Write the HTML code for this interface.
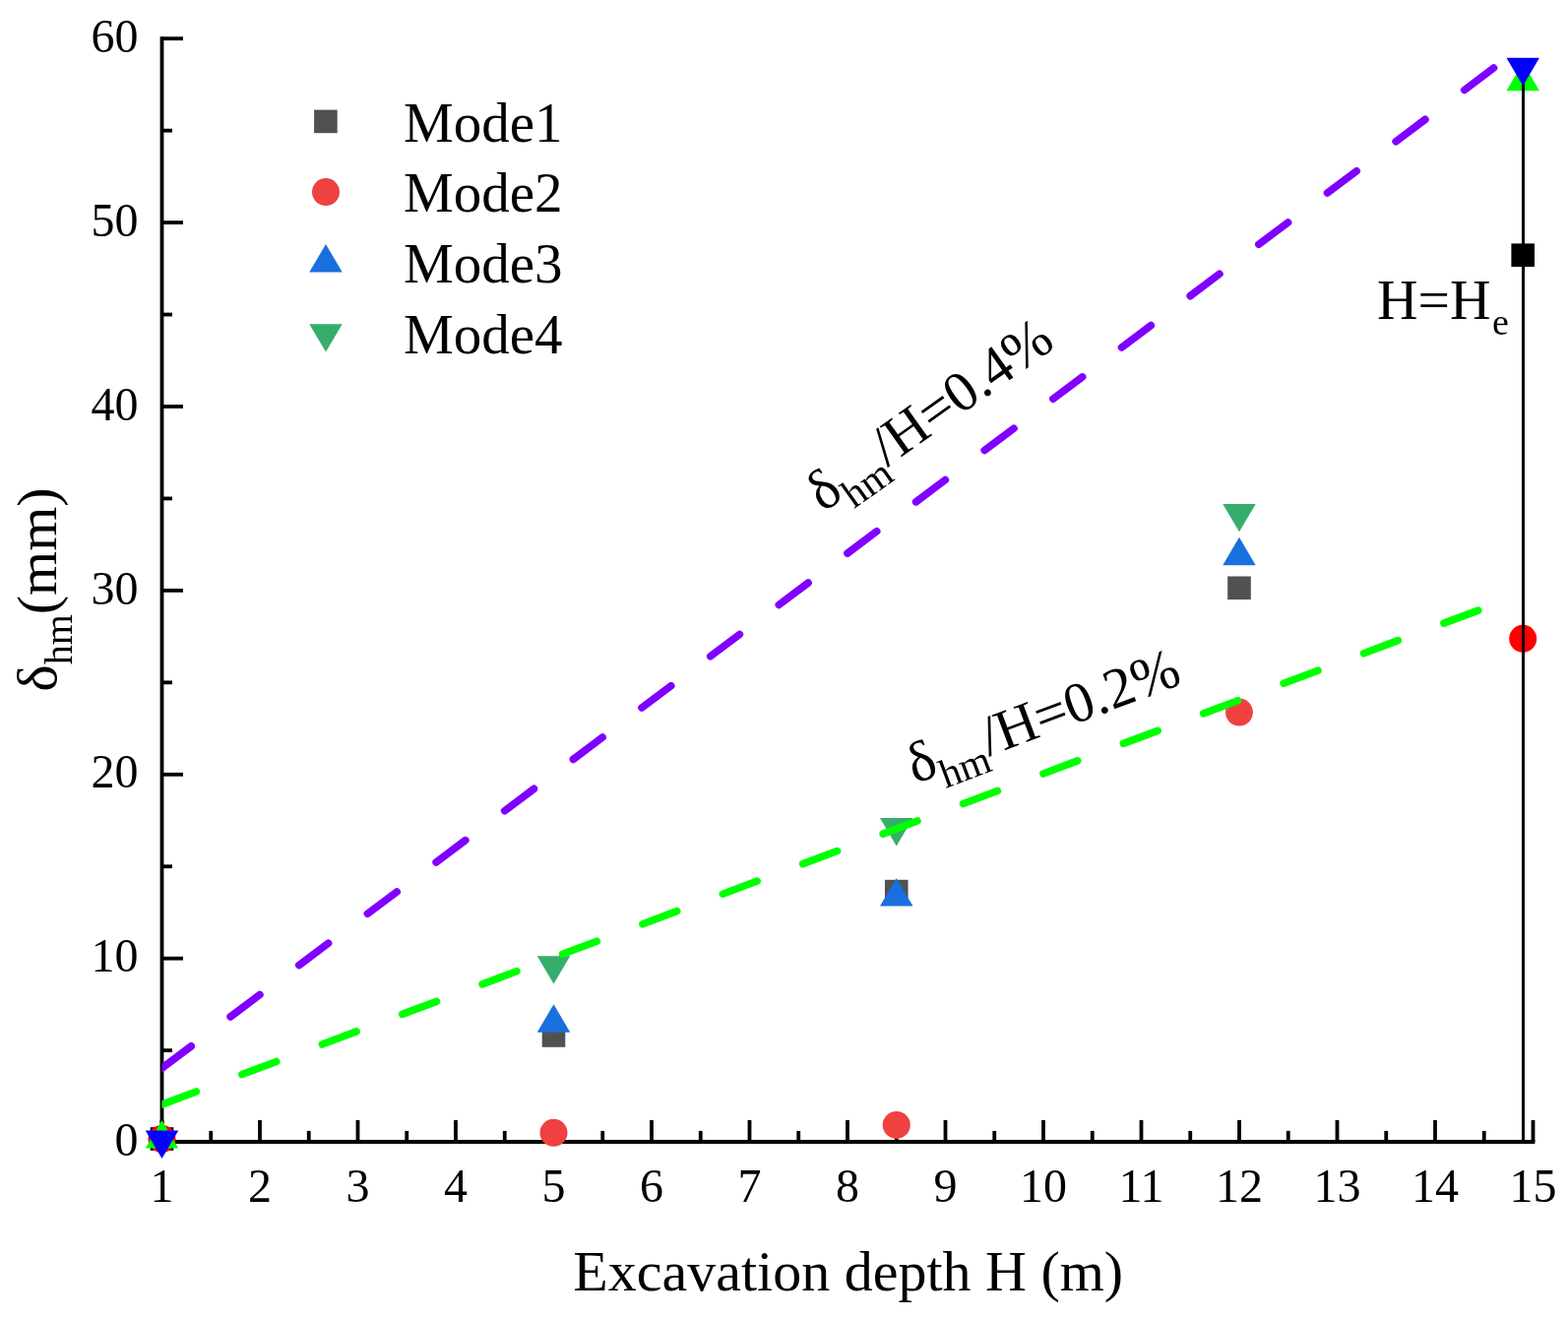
<!DOCTYPE html>
<html><head><meta charset="utf-8"><title>chart</title>
<style>
html,body{margin:0;padding:0;background:#fff;}
svg{display:block;}
text{font-family:"Liberation Serif", "Times New Roman", serif;fill:#000;}
</style></head>
<body>
<svg width="1593" height="1340" viewBox="0 0 1593 1340">
<defs><clipPath id="plot"><rect x="164.5" y="0" width="1430" height="1160"/></clipPath></defs>
<rect width="1593" height="1340" fill="#fff"/>
<line x1="164.50" y1="37.3" x2="164.50" y2="1161.6" stroke="#000" stroke-width="3.8"/>
<line x1="162.9" y1="1160.0" x2="1559.4" y2="1160.0" stroke="#000" stroke-width="3.8"/>
<line x1="164.50" y1="1067.15" x2="175.00" y2="1067.15" stroke="#000" stroke-width="3.8"/>
<line x1="164.50" y1="973.70" x2="186.00" y2="973.70" stroke="#000" stroke-width="3.8"/>
<line x1="164.50" y1="880.25" x2="175.00" y2="880.25" stroke="#000" stroke-width="3.8"/>
<line x1="164.50" y1="786.80" x2="186.00" y2="786.80" stroke="#000" stroke-width="3.8"/>
<line x1="164.50" y1="693.35" x2="175.00" y2="693.35" stroke="#000" stroke-width="3.8"/>
<line x1="164.50" y1="599.90" x2="186.00" y2="599.90" stroke="#000" stroke-width="3.8"/>
<line x1="164.50" y1="506.45" x2="175.00" y2="506.45" stroke="#000" stroke-width="3.8"/>
<line x1="164.50" y1="413.00" x2="186.00" y2="413.00" stroke="#000" stroke-width="3.8"/>
<line x1="164.50" y1="319.55" x2="175.00" y2="319.55" stroke="#000" stroke-width="3.8"/>
<line x1="164.50" y1="226.10" x2="186.00" y2="226.10" stroke="#000" stroke-width="3.8"/>
<line x1="164.50" y1="132.65" x2="175.00" y2="132.65" stroke="#000" stroke-width="3.8"/>
<line x1="164.50" y1="39.20" x2="186.00" y2="39.20" stroke="#000" stroke-width="3.8"/>
<line x1="164.50" y1="1159.9" x2="164.50" y2="1137.90" stroke="#000" stroke-width="3.8"/>
<line x1="214.25" y1="1159.9" x2="214.25" y2="1148.90" stroke="#000" stroke-width="3.8"/>
<line x1="264.00" y1="1159.9" x2="264.00" y2="1137.90" stroke="#000" stroke-width="3.8"/>
<line x1="313.75" y1="1159.9" x2="313.75" y2="1148.90" stroke="#000" stroke-width="3.8"/>
<line x1="363.50" y1="1159.9" x2="363.50" y2="1137.90" stroke="#000" stroke-width="3.8"/>
<line x1="413.25" y1="1159.9" x2="413.25" y2="1148.90" stroke="#000" stroke-width="3.8"/>
<line x1="463.00" y1="1159.9" x2="463.00" y2="1137.90" stroke="#000" stroke-width="3.8"/>
<line x1="512.75" y1="1159.9" x2="512.75" y2="1148.90" stroke="#000" stroke-width="3.8"/>
<line x1="562.50" y1="1159.9" x2="562.50" y2="1137.90" stroke="#000" stroke-width="3.8"/>
<line x1="612.25" y1="1159.9" x2="612.25" y2="1148.90" stroke="#000" stroke-width="3.8"/>
<line x1="662.00" y1="1159.9" x2="662.00" y2="1137.90" stroke="#000" stroke-width="3.8"/>
<line x1="711.75" y1="1159.9" x2="711.75" y2="1148.90" stroke="#000" stroke-width="3.8"/>
<line x1="761.50" y1="1159.9" x2="761.50" y2="1137.90" stroke="#000" stroke-width="3.8"/>
<line x1="811.25" y1="1159.9" x2="811.25" y2="1148.90" stroke="#000" stroke-width="3.8"/>
<line x1="861.00" y1="1159.9" x2="861.00" y2="1137.90" stroke="#000" stroke-width="3.8"/>
<line x1="910.75" y1="1159.9" x2="910.75" y2="1148.90" stroke="#000" stroke-width="3.8"/>
<line x1="960.50" y1="1159.9" x2="960.50" y2="1137.90" stroke="#000" stroke-width="3.8"/>
<line x1="1010.25" y1="1159.9" x2="1010.25" y2="1148.90" stroke="#000" stroke-width="3.8"/>
<line x1="1060.00" y1="1159.9" x2="1060.00" y2="1137.90" stroke="#000" stroke-width="3.8"/>
<line x1="1109.75" y1="1159.9" x2="1109.75" y2="1148.90" stroke="#000" stroke-width="3.8"/>
<line x1="1159.50" y1="1159.9" x2="1159.50" y2="1137.90" stroke="#000" stroke-width="3.8"/>
<line x1="1209.25" y1="1159.9" x2="1209.25" y2="1148.90" stroke="#000" stroke-width="3.8"/>
<line x1="1259.00" y1="1159.9" x2="1259.00" y2="1137.90" stroke="#000" stroke-width="3.8"/>
<line x1="1308.75" y1="1159.9" x2="1308.75" y2="1148.90" stroke="#000" stroke-width="3.8"/>
<line x1="1358.50" y1="1159.9" x2="1358.50" y2="1137.90" stroke="#000" stroke-width="3.8"/>
<line x1="1408.25" y1="1159.9" x2="1408.25" y2="1148.90" stroke="#000" stroke-width="3.8"/>
<line x1="1458.00" y1="1159.9" x2="1458.00" y2="1137.90" stroke="#000" stroke-width="3.8"/>
<line x1="1507.75" y1="1159.9" x2="1507.75" y2="1148.90" stroke="#000" stroke-width="3.8"/>
<line x1="1557.50" y1="1159.9" x2="1557.50" y2="1137.90" stroke="#000" stroke-width="3.8"/>
<text x="140.5" y="1174.20" text-anchor="end" font-size="48">0</text>
<text x="140.5" y="987.30" text-anchor="end" font-size="48">10</text>
<text x="140.5" y="800.40" text-anchor="end" font-size="48">20</text>
<text x="140.5" y="613.50" text-anchor="end" font-size="48">30</text>
<text x="140.5" y="426.60" text-anchor="end" font-size="48">40</text>
<text x="140.5" y="239.70" text-anchor="end" font-size="48">50</text>
<text x="140.5" y="52.80" text-anchor="end" font-size="48">60</text>
<text x="164.50" y="1221.3" text-anchor="middle" font-size="48">1</text>
<text x="264.00" y="1221.3" text-anchor="middle" font-size="48">2</text>
<text x="363.50" y="1221.3" text-anchor="middle" font-size="48">3</text>
<text x="463.00" y="1221.3" text-anchor="middle" font-size="48">4</text>
<text x="562.50" y="1221.3" text-anchor="middle" font-size="48">5</text>
<text x="662.00" y="1221.3" text-anchor="middle" font-size="48">6</text>
<text x="761.50" y="1221.3" text-anchor="middle" font-size="48">7</text>
<text x="861.00" y="1221.3" text-anchor="middle" font-size="48">8</text>
<text x="960.50" y="1221.3" text-anchor="middle" font-size="48">9</text>
<text x="1060.00" y="1221.3" text-anchor="middle" font-size="48">10</text>
<text x="1159.50" y="1221.3" text-anchor="middle" font-size="48">11</text>
<text x="1259.00" y="1221.3" text-anchor="middle" font-size="48">12</text>
<text x="1358.50" y="1221.3" text-anchor="middle" font-size="48">13</text>
<text x="1458.00" y="1221.3" text-anchor="middle" font-size="48">14</text>
<text x="1557.50" y="1221.3" text-anchor="middle" font-size="48">15</text>
<text x="582.3" y="1311" font-size="58">Excavation depth H (m)</text>
<text transform="translate(57.4,702.7) rotate(-90)" font-size="58">δ<tspan font-size="40" dy="15.2">hm</tspan><tspan dy="-15.2">(mm)</tspan></text>
<rect x="319.10" y="111.60" width="23.6" height="23.6" fill="#515151"/>
<circle cx="331.00" cy="195.10" r="14.0" fill="#F04141"/>
<polygon points="331.00,248.07 347.75,276.47 314.25,276.47" fill="#1A6FDF"/>
<polygon points="314.25,329.13 347.75,329.13 331.00,357.53" fill="#37AD6B"/>
<text x="410" y="144.3" font-size="57">Mode1</text>
<text x="410" y="215.3" font-size="57">Mode2</text>
<text x="410" y="286.8" font-size="57">Mode3</text>
<text x="410" y="358.9" font-size="57">Mode4</text>
<rect x="152.70" y="1145.20" width="23.6" height="23.6" fill="#000"/>
<circle cx="164.50" cy="1157.00" r="14.0" fill="#F00"/>
<polygon points="164.50,1138.07 181.25,1166.47 147.75,1166.47" fill="#0F0"/>
<polygon points="147.75,1148.53 181.25,1148.53 164.50,1176.93" fill="#00F"/>
<rect x="550.70" y="1040.20" width="23.6" height="23.6" fill="#515151"/>
<rect x="898.95" y="893.80" width="23.6" height="23.6" fill="#515151"/>
<rect x="1247.20" y="585.50" width="23.6" height="23.6" fill="#515151"/>
<circle cx="562.50" cy="1150.80" r="14.0" fill="#F04141"/>
<circle cx="910.75" cy="1142.90" r="14.0" fill="#F04141"/>
<circle cx="1259.00" cy="723.60" r="14.0" fill="#F04141"/>
<polygon points="562.50,1020.27 579.25,1048.67 545.75,1048.67" fill="#1A6FDF"/>
<polygon points="910.75,892.17 927.50,920.57 894.00,920.57" fill="#1A6FDF"/>
<polygon points="1259.00,545.87 1275.75,574.27 1242.25,574.27" fill="#1A6FDF"/>
<polygon points="545.75,971.13 579.25,971.13 562.50,999.53" fill="#37AD6B"/>
<polygon points="894.00,831.03 927.50,831.03 910.75,859.43" fill="#37AD6B"/>
<polygon points="1242.25,511.93 1275.75,511.93 1259.00,540.33" fill="#37AD6B"/>
<rect x="1535.40" y="247.40" width="23.6" height="23.6" fill="#000"/>
<circle cx="1547.20" cy="648.80" r="14.0" fill="#F00"/>
<polygon points="1547.20,63.87 1563.95,92.27 1530.45,92.27" fill="#0F0"/>
<line x1="1547.5" y1="1160" x2="1547.5" y2="72" stroke="#000" stroke-width="3"/>
<polygon points="1530.45,58.83 1563.95,58.83 1547.20,87.23" fill="#00F"/>
<g clip-path="url(#plot)">
<line x1="164.50" y1="1085.20" x2="1542.58" y2="50.27" stroke="#8000FF" stroke-width="7.6" stroke-linecap="round" stroke-dasharray="37.2 49.9"/>
<line x1="164.50" y1="1122.10" x2="1542.58" y2="604.77" stroke="#00FF00" stroke-width="7.6" stroke-linecap="round" stroke-dasharray="37.2 49.75"/>
</g>
<text transform="translate(836.5,521) rotate(-35.5)" font-size="58">δ<tspan font-size="41" dy="15">hm</tspan><tspan dy="-15">/H=0.4%</tspan></text>
<text transform="translate(929.8,796.6) rotate(-20.6)" font-size="58">δ<tspan font-size="41" dy="15">hm</tspan><tspan dy="-15">/H=0.2%</tspan></text>
<text x="1399" y="323.7" font-size="57.5">H=H<tspan font-size="38" dx="1.5" dy="16">e</tspan></text>
</svg>
</body></html>
